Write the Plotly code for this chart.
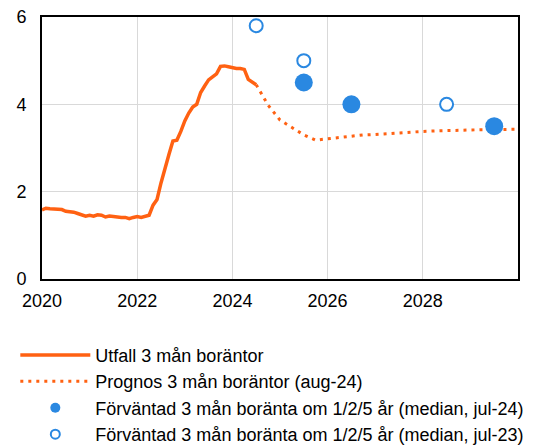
import plotly.graph_objects as go

# Actual 3-month mortgage rates, monthly Jan 2020 - Jul 2024
actual_start_year = 2020
actual_values = [1.58, 1.62, 1.61, 1.60, 1.60, 1.59, 1.55, 1.55, 1.53, 1.50, 1.46, 1.44,
                 1.46, 1.44, 1.47, 1.46, 1.42, 1.44, 1.43, 1.41, 1.41, 1.41, 1.38, 1.41,
                 1.43, 1.41, 1.43, 1.46, 1.69, 1.82, 2.20, 2.55, 2.85, 3.16, 3.18, 3.38,
                 3.62, 3.80, 3.94, 4.00, 4.27, 4.42, 4.56, 4.63, 4.70, 4.87, 4.88, 4.86,
                 4.83, 4.82, 4.82, 4.80, 4.57, 4.52, 4.45]
actual_x = [actual_start_year + i / 12 for i in range(len(actual_values))]

# Forecast (aug-24), quarterly
forecast_x = [2024.5, 2024.75, 2025.0, 2025.25, 2025.5, 2025.75, 2026.0, 2026.25, 2026.5,
              2026.75, 2027.0, 2027.25, 2027.5, 2027.75, 2028.0, 2028.25, 2028.5, 2028.75,
              2029.0, 2029.25, 2029.5, 2029.75, 2030.0]
forecast_values = [4.45, 3.98, 3.64, 3.46, 3.30, 3.18, 3.21, 3.25, 3.28, 3.30, 3.31, 3.33,
                   3.35, 3.37, 3.38, 3.39, 3.40, 3.40, 3.41, 3.42, 3.42, 3.43, 3.43]

# Expected rates (median)
exp24_x = [2025.5, 2026.5, 2029.5]
exp24_values = [4.5, 4.0, 3.5]
exp23_x = [2024.5, 2025.5, 2028.5]
exp23_values = [5.8, 5.0, 4.0]

x_ticks = [2020, 2022, 2024, 2026, 2028]
y_ticks = [0, 2, 4, 6]

names = ["Utfall 3 mån boräntor",
         "Prognos 3 mån boräntor (aug-24)",
         "Förväntad 3 mån boränta om 1/2/5 år (median, jul-24)",
         "Förväntad 3 mån boränta om 1/2/5 år (median, jul-23)"]

ORANGE = "#FF6112"
BLUE = "#2A88E1"

fig = go.Figure()
fig.add_trace(go.Scatter(x=actual_x, y=actual_values, mode="lines",
                         line=dict(color=ORANGE, width=3.5), showlegend=False))
fig.add_trace(go.Scatter(x=forecast_x, y=forecast_values, mode="lines",
                         line=dict(color=ORANGE, width=3, dash="3px,5px"), showlegend=False))
fig.add_trace(go.Scatter(x=exp24_x, y=exp24_values, mode="markers",
                         marker=dict(color=BLUE, size=18), showlegend=False, cliponaxis=False))
fig.add_trace(go.Scatter(x=exp23_x, y=exp23_values, mode="markers",
                         marker=dict(color="white", size=13, line=dict(color=BLUE, width=2)),
                         showlegend=False, cliponaxis=False))

# legend entries
fig.add_trace(go.Scatter(x=[None], y=[None], mode="lines", name=names[0],
                         line=dict(color=ORANGE, width=3.5)))
fig.add_trace(go.Scatter(x=[None], y=[None], mode="lines", name=names[1],
                         line=dict(color=ORANGE, width=3, dash="3px,5px")))
fig.add_trace(go.Scatter(x=[None], y=[None], mode="markers", name=names[2],
                         marker=dict(color=BLUE, size=10)))
fig.add_trace(go.Scatter(x=[None], y=[None], mode="markers", name=names[3],
                         marker=dict(color="white", size=9, line=dict(color=BLUE, width=2))))

font_family = "Liberation Sans, Arial, sans-serif"
fig.update_layout(
    width=547, height=446,
    margin=dict(l=42, r=29, t=17, b=167, autoexpand=False),
    paper_bgcolor="white", plot_bgcolor="white",
    font=dict(family=font_family, size=18, color="black"),
    xaxis=dict(range=[2020, 2030], tickvals=x_ticks, ticktext=[str(v) for v in x_ticks],
               showgrid=True, gridcolor="#D9D9D9", gridwidth=1,
               showline=True, linecolor="black", linewidth=2, mirror=True,
               ticks="outside", ticklen=4, tickcolor="rgba(0,0,0,0)",
               zeroline=False, tickfont=dict(size=18)),
    yaxis=dict(range=[0, 6], tickvals=y_ticks, ticktext=[str(v) for v in y_ticks],
               showgrid=True, gridcolor="#D9D9D9", gridwidth=1,
               showline=True, linecolor="black", linewidth=2, mirror=True,
               ticks="outside", ticklen=10, tickcolor="rgba(0,0,0,0)",
               zeroline=False, tickfont=dict(size=18)),
    legend=dict(xref="container", yref="container", x=0.028, y=0.245,
                xanchor="left", yanchor="top", itemwidth=70,
                font=dict(size=18), bgcolor="rgba(0,0,0,0)", tracegroupgap=0),
)

fig.write_html("out.html", config={"displayModeBar": False},
               post_script="document.body.style.margin='0px';")
